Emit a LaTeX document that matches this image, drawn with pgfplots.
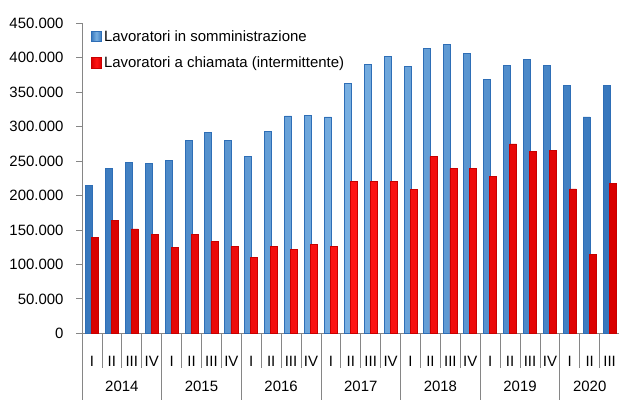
\documentclass[border=0pt]{standalone}
\usepackage{pgfplots}
\pgfplotsset{compat=1.18}
\usepackage{fontspec}
\setmainfont{Liberation Sans}
\definecolor{axgray}{RGB}{134,134,134}
\definecolor{bluefill}{RGB}{91,155,213}
\definecolor{bluelight}{RGB}{120,175,225}
\definecolor{blueedge}{RGB}{46,110,182}
\definecolor{redfill}{RGB}{255,0,0}
\definecolor{redlight}{RGB}{255,20,20}
\definecolor{rededge}{RGB}{200,0,0}
\newcommand{\chartfont}{\fontsize{15}{18}\selectfont}
\begin{document}
\begin{tikzpicture}
\begin{axis}[
  name=ax,
  scale only axis,
  width=537.6bp, height=310bp,
  xmin=-0.5, xmax=26.5,
  ymin=0, ymax=450000,
  clip=false,
  axis lines*=left,
  axis line style={draw=axgray, line width=0.8pt},
  ytick={0,50000,...,450000},
  scaled y ticks=false,
  /pgf/number format/.cd, fixed, 1000 sep={.}, assume math mode=true,
  /pgfplots/.cd,
  tick label style={font=\chartfont},
  yticklabel style={anchor=east, xshift=-9.5bp},
  ytick style={draw=axgray, line width=0.8pt},
  major tick length=5.5bp,
  tick align=outside,
  xtick={0,...,26},
  xticklabels={I,II,III,IV,I,II,III,IV,I,II,III,IV,I,II,III,IV,I,II,III,IV,I,II,III,IV,I,II,III},
  xtick style={draw=none},
  xticklabel style={anchor=center, yshift=-23bp},
  legend style={draw=none, fill=none, at={(0,1)}, anchor=north west,
    xshift=8.5bp, yshift=-5bp, font=\chartfont, row sep=10bp, inner sep=0pt,
    /tikz/every even column/.append style={column sep=4bp}},
  legend cell align=left,
  legend image code/.code={\draw[#1] (0bp,-5bp) rectangle (10.5bp,5.5bp);},
]
\addplot[ybar, bar width=7bp, bar shift=-3bp, draw=blueedge, line width=0.9pt,
  left color=blueedge!80!bluefill, right color=blueedge!80!bluefill, middle color=bluelight]
coordinates {
(0,214000) (1,239000) (2,248500) (3,246500)
(4,250500) (5,280000) (6,291500) (7,280000)
(8,256000) (9,292500) (10,315500) (11,316500)
(12,314000) (13,363000) (14,390000) (15,402000)
(16,388000) (17,414000) (18,419500) (19,406000)
(20,368000) (21,389000) (22,398000) (23,389000)
(24,359500) (25,314000) (26,359500)
};
\addlegendentry{Lavoratori in somministrazione}
\addplot[ybar, bar width=7bp, bar shift=3bp, draw=rededge, line width=0.6pt,
  left color=rededge!70!redfill, right color=rededge!70!redfill, middle color=redlight]
coordinates {
(0,139000) (1,164000) (2,151500) (3,143000)
(4,125000) (5,143000) (6,133000) (7,126000)
(8,110000) (9,126000) (10,122000) (11,129000)
(12,126000) (13,221000) (14,220000) (15,220000)
(16,209000) (17,256500) (18,239000) (19,239000)
(20,227500) (21,275000) (22,263500) (23,265000)
(24,209500) (25,114000) (26,217500)
};
\addlegendentry{Lavoratori a chiamata (intermittente)}
\pgfplotsinvokeforeach{0.5,1.5,2.5,4.5,5.5,6.5,8.5,9.5,10.5,12.5,13.5,14.5,16.5,17.5,18.5,20.5,21.5,22.5,24.5,25.5}{
  \draw[axgray, line width=0.8pt] (axis cs:#1,0) -- ([yshift=-35bp]axis cs:#1,0);
}
\pgfplotsinvokeforeach{-0.5,3.5,7.5,11.5,15.5,19.5,23.5}{
  \draw[axgray, line width=0.8pt] (axis cs:#1,0) -- ([yshift=-67bp]axis cs:#1,0);
}
\node[font=\chartfont] at ([yshift=-53.4bp]axis cs:1.5,0) {2014};
\node[font=\chartfont] at ([yshift=-53.4bp]axis cs:5.5,0) {2015};
\node[font=\chartfont] at ([yshift=-53.4bp]axis cs:9.5,0) {2016};
\node[font=\chartfont] at ([yshift=-53.4bp]axis cs:13.5,0) {2017};
\node[font=\chartfont] at ([yshift=-53.4bp]axis cs:17.5,0) {2018};
\node[font=\chartfont] at ([yshift=-53.4bp]axis cs:21.5,0) {2019};
\node[font=\chartfont] at ([yshift=-53.4bp]axis cs:25,0) {2020};
\end{axis}
\pgfresetboundingbox
\useasboundingbox ([xshift=-82bp,yshift=-66.7bp]ax.south west) rectangle ([xshift=-0.6bp,yshift=23.3bp]ax.north east);
\end{tikzpicture}
\end{document}
